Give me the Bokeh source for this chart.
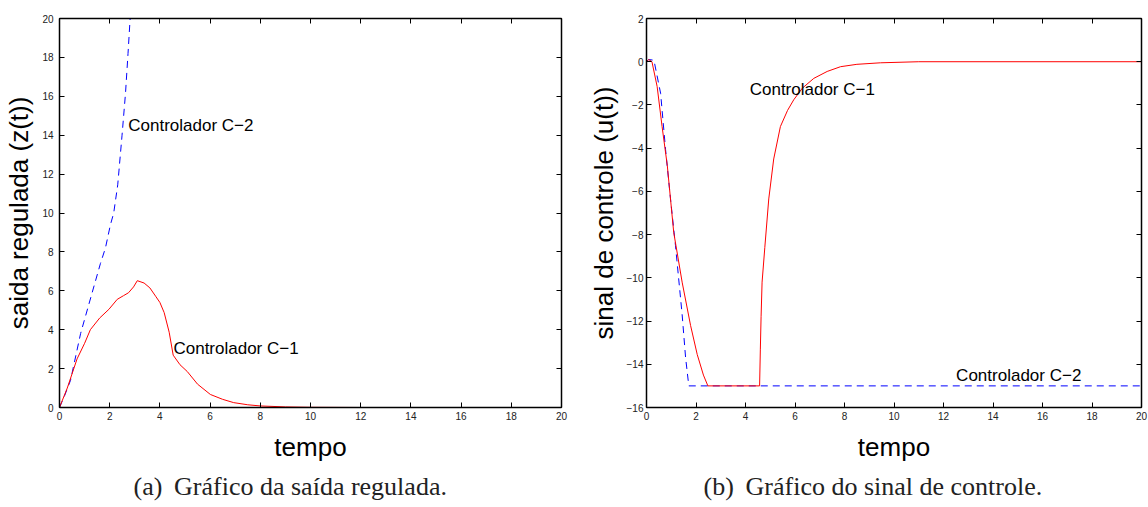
from bokeh.plotting import figure
from bokeh.models import Label, Title, LinearAxis, FixedTicker, Range1d, CustomJSTickFormatter
from bokeh.layouts import row
from bokeh.embed import file_html
from bokeh.resources import INLINE

# ---------------- data ----------------
# (a) regulated output z(t)
t_z1 = [0, 0.31, 0.70, 1.0, 1.23, 1.6, 1.97, 2.3, 2.55, 2.75, 2.95, 3.1, 3.37, 3.6, 3.83, 4.0,
        4.17, 4.37, 4.53, 4.8, 5.09, 5.5, 6.01, 6.5, 6.94, 7.5, 8.0, 9.0, 10.0, 12.0, 15.0, 20.0]
z1 = [0, 1.0, 2.5, 3.3, 4.0, 4.6, 5.05, 5.56, 5.75, 5.9, 6.2, 6.52, 6.4, 6.15, 5.72, 5.4,
      4.88, 3.87, 2.69, 2.2, 1.85, 1.2, 0.67, 0.42, 0.25, 0.14, 0.08, 0.03, 0.01, 0.0, 0.0, 0.0]

t_z2 = [0, 0.2, 0.44, 0.84, 1.3, 1.63, 1.83, 2.03, 2.16, 2.32, 2.49, 2.63, 2.73, 2.80, 2.83]
z2 = [0, 0.6, 1.4, 3.8, 5.9, 7.4, 8.2, 9.4, 10.0, 11.45, 13.97, 16.16, 18.2, 19.7, 20.3]

# (b) control signal u(t)
t_u1 = [0, 0.09, 0.22, 0.43, 0.63, 0.84, 1.1, 1.44, 1.78, 2.05, 2.3, 2.48, 4.57, 4.6, 4.63, 4.67,
        4.78, 4.94, 5.14, 5.41, 5.7, 5.95, 6.3, 6.76, 7.3, 7.84, 8.5, 9.45, 11.0, 20.0]
u1 = [0, 0.1, 0.0, -1.15, -3.0, -4.8, -7.9, -10.2, -12.2, -13.55, -14.5, -15.0, -15.0, -13.3, -11.8, -10.2,
      -8.6, -6.35, -4.5, -3.0, -2.25, -1.76, -1.22, -0.77, -0.45, -0.23, -0.12, -0.05, 0.0, 0.0]

t_u2 = [0, 0.09, 0.3, 0.57, 0.77, 0.97, 1.17, 1.44, 1.58, 1.71, 20.0]
u2 = [0, 0.1, 0.07, -1.46, -4.06, -6.35, -8.5, -11.7, -13.7, -15.0, -15.0]

# ticks
t_ticks = [0, 2, 4, 6, 8, 10, 12, 14, 16, 18, 20]
t_tick_labels = ["0", "2", "4", "6", "8", "10", "12", "14", "16", "18", "20"]
z_ticks = [0, 2, 4, 6, 8, 10, 12, 14, 16, 18, 20]
z_tick_labels = ["0", "2", "4", "6", "8", "10", "12", "14", "16", "18", "20"]
u_ticks = [-16, -14, -12, -10, -8, -6, -4, -2, 0, 2]
u_tick_labels = ["\u221216", "\u221214", "\u221212", "\u221210", "\u22128", "\u22126",
                 "\u22124", "\u22122", "0", "2"]

FONT = "Liberation Sans"
SERIF = "Liberation Serif"
RED = "#ff0000"
BLUE = "#0000ff"
H = 506
FRAME_BOTTOM = 410


def style_axis(ax, ticks, labels, show, standoff=5):
    ax.ticker = FixedTicker(ticks=ticks)
    ax.axis_line_color = "black"
    ax.axis_line_width = 1.5
    ax.major_tick_in = 5
    ax.major_tick_out = 0
    ax.minor_tick_in = 0
    ax.minor_tick_out = 0
    ax.major_tick_line_color = "black"
    ax.major_tick_line_width = 1
    if show:
        ax.major_label_overrides = {t: l for t, l in zip(ticks, labels)}
        ax.major_label_text_font = FONT
        ax.major_label_text_font_size = "10px"
        ax.major_label_text_color = "#222222"
        ax.major_label_standoff = standoff
    else:
        ax.formatter = CustomJSTickFormatter(code="return ''")
        ax.major_label_standoff = 0
        ax.major_label_text_font_size = "1px"


def make_panel(width, top, left, right, y0, y1, yticks, ylabels, ylabel, caption, cap_offset, ystand):
    p = figure(width=width, height=H, x_range=Range1d(0, 20), y_range=Range1d(y0, y1),
               output_backend="svg", toolbar_location=None,
               min_border_left=left, min_border_right=right, min_border_top=top,
               min_border_bottom=H - FRAME_BOTTOM)
    p.xgrid.visible = False
    p.ygrid.visible = False
    p.outline_line_color = "black"
    p.outline_line_width = 1
    p.background_fill_color = "white"
    p.border_fill_color = "white"

    style_axis(p.xaxis[0], t_ticks, t_tick_labels, True, 4)
    style_axis(p.yaxis[0], yticks, ylabels, True, ystand)
    p.xaxis[0].axis_label = "tempo"
    p.yaxis[0].axis_label = ylabel
    for ax in (p.xaxis[0], p.yaxis[0]):
        ax.axis_label_text_font = FONT
        ax.axis_label_text_font_size = "26px"
        ax.axis_label_text_font_style = "normal"
        ax.axis_label_text_color = "black"
    p.xaxis[0].axis_label_standoff = 9
    p.yaxis[0].axis_label_standoff = 5

    top_ax = LinearAxis()
    style_axis(top_ax, t_ticks, t_tick_labels, False)
    p.add_layout(top_ax, "above")
    right_ax = LinearAxis()
    style_axis(right_ax, yticks, ylabels, False)
    p.add_layout(right_ax, "right")

    p.add_layout(Title(text=caption, align="left", offset=cap_offset, text_font=SERIF,
                       text_font_size="26px", text_font_style="normal", text_color="#222222",
                       standoff=11), "below")
    return p


def annotate(p, x, y, text):
    p.add_layout(Label(x=x, y=y, text=text, text_font=FONT, text_font_size="17px",
                       text_color="black", text_baseline="middle", text_align="left"))


pa = make_panel(580, 14, 59, 19, 0, 20, z_ticks, z_tick_labels, "saida regulada (z(t))",
                "(a)\u2009 Gráfico da saída regulada.", 74, 6)
pa.line(t_z2, z2, line_color=BLUE, line_width=1, line_dash="7 5")
pa.line(t_z1, z1, line_color=RED, line_width=1)
annotate(pa, 2.74, 14.5, "Controlador C\u22122")
annotate(pa, 4.54, 3.03, "Controlador C\u22121")

pb = make_panel(568, 18, 66, 7, -16, 2, u_ticks, u_tick_labels, "sinal de controle (u(t))",
                "(b)\u2009 Gráfico do sinal de controle.", 57, 3)
pb.line(t_u2, u2, line_color=BLUE, line_width=1, line_dash="7 5")
pb.line(t_u1, u1, line_color=RED, line_width=1)
annotate(pb, 4.17, -1.28, "Controlador C\u22121")
annotate(pb, 12.51, -14.54, "Controlador C\u22122")

layout = row(pa, pb, spacing=0)
open("out.html", "w").write(file_html(layout, INLINE))
